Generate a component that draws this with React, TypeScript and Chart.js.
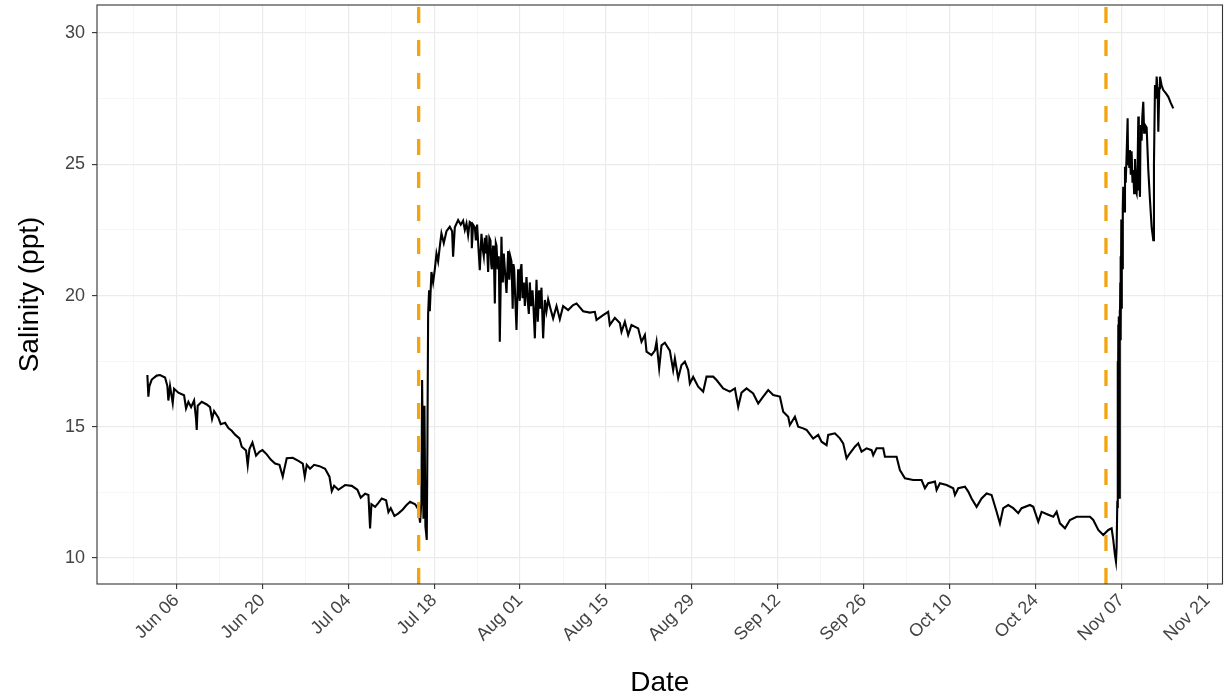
import React, { useEffect, useRef } from "react";
import { Chart, registerables } from "chart.js";

Chart.register(...registerables);

// x values are days since Jun 01
const tickDays = [5, 19, 33, 47, 61, 75, 89, 103, 117, 131, 145, 159, 173];
const tickLabels = ["Jun 06", "Jun 20", "Jul 04", "Jul 18", "Aug 01", "Aug 15", "Aug 29", "Sep 12", "Sep 26", "Oct 10", "Oct 24", "Nov 07", "Nov 21"];
const minorDays = [-2, 12, 26, 40, 54, 68, 82, 96, 110, 124, 138, 152, 166];
const yTicks = [10, 15, 20, 25, 30];
const yMinor = [12.5, 17.5, 22.5, 27.5];
const eventDays = [44.48, 156.48];

// June - mid July
const earlyDays = [0.27, 0.43, 0.60, 0.98, 1.79, 2.33, 3.15, 3.53, 3.69, 3.96,
  4.40, 4.62, 5.32, 6.25, 6.57, 6.95, 7.39, 7.88, 8.20, 8.31,
  8.47, 9.13, 9.94, 10.48, 10.81, 11.14, 11.84, 12.22, 12.93, 13.47,
  14.02, 14.56, 15.27, 15.65, 16.35, 16.62, 16.90, 17.39, 17.98, 18.53,
  19.02, 19.72, 20.37, 21.08, 21.79, 22.33, 22.55, 22.98, 23.96, 24.88,
  25.59, 25.92, 26.24, 26.78, 27.44, 28.31, 29.23, 29.94, 30.32, 30.70,
  31.40, 32.49, 33.58, 34.50, 35.04, 35.75, 36.29, 36.56, 36.78, 37.38,
  37.92, 38.47, 39.17, 39.55, 39.93, 40.53, 41.18, 41.89, 42.43, 43.08,
  43.90, 44.44, 44.71, 44.93, 45.04, 45.26, 45.42, 45.58, 45.80, 45.91, 46.02];
const earlySal = [16.97, 16.15, 16.55, 16.80, 16.95, 16.97, 16.88, 16.55, 16.0, 16.55,
  15.9, 16.45, 16.3, 16.2, 15.7, 15.95, 15.75, 16.0, 15.3, 14.88,
  15.8, 15.95, 15.85, 15.75, 15.3, 15.6, 15.35, 15.1, 15.15, 14.95,
  14.85, 14.7, 14.56, 14.24, 14.1, 13.54, 14.15, 14.4, 13.9, 14.05,
  14.11, 13.95, 13.75, 13.6, 13.55, 13.1, 13.35, 13.8, 13.82, 13.7,
  13.6, 13.1, 13.55, 13.4, 13.55, 13.5, 13.4, 13.1, 12.55, 12.75,
  12.6, 12.78, 12.75, 12.6, 12.3, 12.45, 12.4, 11.13, 12.05, 11.95,
  12.1, 12.27, 12.2, 11.75, 11.9, 11.6, 11.7, 11.85, 12.0, 12.14,
  12.05, 11.85, 11.35, 12.2, 16.78, 11.5, 15.8, 11.2, 10.69, 14.5, 19.3];

// late July - early August peak
const peakDays = [46.18, 46.29, 46.56, 46.83, 47.11, 47.38, 47.65, 47.92, 48.19, 48.57,
  49.01, 49.55, 49.93, 50.09, 50.37, 50.91, 51.34, 51.72, 52.00, 52.27,
  52.54, 52.80, 53.08, 53.14, 53.35, 53.63, 53.80, 54.00, 54.20, 54.44,
  54.71, 54.90, 55.09, 55.26, 55.40, 55.53, 55.80, 56.00, 56.18, 56.30,
  56.40, 56.61, 56.75, 56.89, 57.05, 57.16, 57.35, 57.54, 57.70, 57.97,
  58.08, 58.19, 58.35, 58.55, 58.79, 59.06, 59.25, 59.40, 59.60, 59.80,
  59.92, 60.04, 60.20, 60.42, 60.69, 60.82, 60.96, 61.10, 61.23, 61.40,
  61.61, 61.78, 62.05, 62.25, 62.43, 62.59, 62.80, 63.03, 63.20, 63.41,
  63.68, 63.89, 64.11, 64.30, 64.49, 64.76, 65.04, 65.30, 65.58, 65.96];
const peakSal = [20.2, 19.4, 20.9, 20.5, 21.0, 21.6, 21.3, 21.86, 22.37, 22.0,
  22.45, 22.62, 22.45, 21.48, 22.6, 22.88, 22.7, 22.85, 22.5, 22.75,
  22.3, 22.8, 22.75, 21.8, 22.7, 22.6, 22.1, 22.7, 21.9, 20.97,
  22.35, 21.8, 21.5, 22.2, 21.6, 22.3, 20.9, 22.2, 22.1, 21.2,
  21.0, 21.9, 21.3, 19.7, 22.0, 21.9, 21.0, 21.5, 18.24, 22.24,
  21.2, 20.5, 21.6, 20.9, 20.1, 21.7, 20.6, 21.5, 21.3, 19.5,
  21.2, 21.0, 20.0, 18.69, 21.0, 20.2, 19.8, 21.0, 21.2, 19.9,
  20.5, 19.6, 20.7, 19.8, 19.3, 20.5, 19.6, 20.2, 19.5, 18.37,
  20.6, 19.0, 20.2, 19.5, 20.3, 18.37, 19.83, 19.4, 19.85, 19.5];

// August - mid September
const midDays = [66.39, 66.94, 67.48, 68.02, 68.84, 69.65, 70.20, 71.28, 72.37, 73.19,
  73.46, 74.54, 75.36, 75.63, 76.45, 77.26, 77.53, 78.08, 78.62, 79.16,
  80.25, 80.79, 81.34, 81.61, 82.42, 82.97, 83.24, 83.67, 84.05, 84.60,
  85.41, 85.95, 86.23, 86.77, 87.31, 87.86, 88.40, 88.67, 89.21, 90.03,
  90.84, 91.39, 92.47, 93.02, 94.10, 95.19, 96.01, 96.55, 97.09, 97.91,
  98.99, 99.81, 100.62, 101.44, 102.25, 103.34, 103.88, 104.70, 104.97, 105.79,
  106.33, 107.14];
const midSal = [19.13, 19.6, 19.1, 19.6, 19.45, 19.64, 19.70, 19.4, 19.35, 19.38,
  19.07, 19.25, 19.38, 18.88, 19.15, 18.95, 18.62, 19.0, 18.50, 18.88,
  18.75, 18.24, 18.5, 17.86, 17.73, 17.9, 18.24, 17.23, 18.1, 18.2,
  17.9, 17.16, 17.6, 16.85, 17.35, 17.48, 17.16, 16.65, 16.9, 16.53,
  16.34, 16.91, 16.91, 16.78, 16.46, 16.34, 16.46, 15.76, 16.3, 16.46,
  16.27, 15.89, 16.15, 16.40, 16.21, 16.15, 15.57, 15.38, 15.07, 15.38,
  15.0, 14.94];

// mid September - early November
const lateDays = [107.69, 108.77, 109.59, 110.13, 110.95, 111.22, 112.31, 113.12, 113.66, 114.21,
  114.75, 115.57, 116.11, 116.65, 117.47, 118.28, 118.55, 119.10, 120.18, 120.46,
  121.54, 122.36, 122.90, 123.72, 125.07, 126.43, 126.98, 127.52, 128.61, 128.88,
  129.42, 130.51, 131.59, 131.87, 132.41, 133.50, 134.04, 134.58, 135.40, 136.21,
  137.03, 137.84, 138.66, 139.20, 139.74, 140.56, 141.37, 142.19, 142.73, 144.09,
  144.63, 145.45, 145.99, 147.08, 147.89, 148.44, 148.98, 149.80, 150.61, 151.70,
  152.78, 153.87, 154.41, 155.23, 156.04, 156.86, 157.40, 157.67];
const lateSal = [14.88, 14.55, 14.69, 14.43, 14.30, 14.69, 14.75, 14.56, 14.37, 13.80,
  13.99, 14.24, 14.37, 14.05, 14.18, 14.11, 13.92, 14.18, 14.18, 13.86,
  13.86, 13.86, 13.35, 13.04, 12.97, 12.97, 12.66, 12.85, 12.91, 12.59,
  12.85, 12.78, 12.66, 12.40, 12.66, 12.72, 12.53, 12.27, 11.95, 12.27,
  12.46, 12.40, 11.76, 11.32, 11.90, 12.02, 11.90, 11.71, 11.90, 12.02,
  11.95, 11.38, 11.76, 11.65, 11.57, 11.76, 11.32, 11.13, 11.45, 11.57,
  11.57, 11.57, 11.45, 11.07, 10.88, 11.07, 11.13, 10.69];

// November surge
const novDays = [157.95, 158.11, 158.22, 158.33, 158.38, 158.43, 158.49, 158.54, 158.60, 158.65,
  158.71, 158.76, 158.81, 158.84, 158.87, 158.92, 158.98, 159.03, 159.09, 159.14,
  159.20, 159.25, 159.30, 159.45, 159.58, 159.70, 159.85, 160.01, 160.09, 160.17,
  160.28, 160.39, 160.52, 160.66, 160.80, 160.93, 161.07, 161.21, 161.35, 161.48,
  161.64, 161.75, 161.83, 161.91, 162.02, 162.10, 162.18, 162.29, 162.40, 162.56,
  162.70, 162.84, 163.11, 163.38, 163.65, 163.92, 164.19, 164.30, 164.47, 164.63,
  164.74, 164.90, 165.01, 165.17, 165.28, 165.55, 165.82, 166.26, 166.64, 167.02, 167.45];
const novSal = [10.1, 9.86, 10.4, 12.18, 17.5, 11.9, 18.9, 12.4, 19.2, 12.3,
  19.45, 18.18, 20.5, 18.3, 21.5, 18.6, 22.9, 19.5, 21.8, 22.8,
  21.0, 23.3, 24.14, 23.2, 24.91, 24.3, 25.42, 26.75, 25.0, 25.3,
  24.9, 25.54, 24.6, 25.5, 24.3, 24.78, 23.9, 25.2, 24.0, 23.89,
  25.0, 26.82, 24.0, 24.5, 23.76, 26.0, 26.5, 25.9, 26.8, 27.38,
  26.2, 26.5, 26.4, 24.78, 23.64, 22.62, 22.11, 25.0, 28.02, 27.5,
  28.34, 27.8, 26.24, 27.9, 28.34, 28.0, 27.83, 27.7, 27.57, 27.35, 27.13];

const segmentDays = [earlyDays, peakDays, midDays, lateDays, novDays];
const segmentSal = [earlySal, peakSal, midSal, lateSal, novSal];

const FONT = "'Liberation Sans', Arial, Helvetica, sans-serif";

const overlayPlugin = {
  id: "overlay",
  afterDatasetsDraw(chart: any) {
    const { ctx, chartArea, scales } = chart;
    const { left, right, top, bottom } = chartArea;
    ctx.save();
    ctx.beginPath();
    ctx.rect(left, top, right - left, bottom - top);
    ctx.clip();
    ctx.strokeStyle = "#F4A40C";
    ctx.lineWidth = 3.3;
    ctx.setLineDash([16, 17]);
    eventDays.forEach((d) => {
      const px = scales.x.getPixelForValue(d);
      ctx.beginPath();
      ctx.moveTo(px, bottom);
      ctx.lineTo(px, top);
      ctx.stroke();
    });
    ctx.restore();
    ctx.save();
    ctx.strokeStyle = "#333333";
    ctx.lineWidth = 1.1;
    ctx.strokeRect(left, top, right - left, bottom - top);
    ctx.restore();
  },
};

export default function App() {
  const ref = useRef<HTMLCanvasElement | null>(null);
  useEffect(() => {
    document.body.style.margin = "0";
    const points: { x: number; y: number }[] = [];
    segmentDays.forEach((ds, s) => {
      const vs = segmentSal[s];
      const n = Math.min(ds.length, vs.length);
      for (let i = 0; i < n; i++) points.push({ x: ds[i], y: vs[i] });
    });
    const isMajorX = (v: number) => tickDays.indexOf(v) >= 0;
    const isMajorY = (v: number) => yTicks.indexOf(v) >= 0;
    const chart = new Chart(ref.current as HTMLCanvasElement, {
      type: "line",
      data: {
        datasets: [
          {
            data: points,
            borderColor: "#000000",
            borderWidth: 2.1,
            pointRadius: 0,
            tension: 0,
            fill: false,
          },
        ],
      },
      options: {
        responsive: false,
        animation: false,
        parsing: false,
        normalized: true,
        layout: { padding: { top: 5, right: 2.5, left: 0, bottom: 0 } },
        plugins: { legend: { display: false }, tooltip: { enabled: false } },
        scales: {
          x: {
            type: "linear",
            min: -7.94,
            max: 175.47,
            afterBuildTicks: (scale: any) => {
              scale.ticks = [...tickDays, ...minorDays]
                .sort((a, b) => a - b)
                .map((v) => ({ value: v }));
            },
            afterFit: (scale: any) => {
              scale.height = 116;
              scale.paddingLeft = 0;
              scale.paddingRight = 0;
            },
            border: { display: false },
            grid: {
              color: (c: any) => (isMajorX(c.tick?.value) ? "#ebebeb" : "#f4f4f4"),
              lineWidth: (c: any) => (isMajorX(c.tick?.value) ? 1.2 : 0.8),
              tickColor: (c: any) => (isMajorX(c.tick?.value) ? "#333333" : "rgba(0,0,0,0)"),
              tickLength: 5,
              tickWidth: 1.1,
              drawTicks: true,
            },
            ticks: {
              autoSkip: false,
              minRotation: 45,
              maxRotation: 45,
              padding: 1,
              color: "#444444",
              font: { family: FONT, size: 18 },
              callback: (v: any) => {
                const i = tickDays.indexOf(Number(v));
                return i >= 0 ? tickLabels[i] : "";
              },
            },
            title: {
              display: true,
              text: "Date",
              color: "#000000",
              font: { family: FONT, size: 28 },
              padding: { top: 0, bottom: 0 },
            },
          },
          y: {
            type: "linear",
            min: 9.01,
            max: 31.07,
            afterBuildTicks: (scale: any) => {
              scale.ticks = [...yTicks, ...yMinor]
                .sort((a, b) => a - b)
                .map((v) => ({ value: v }));
            },
            afterFit: (scale: any) => {
              scale.width = 97;
              scale.paddingTop = 0;
              scale.paddingBottom = 0;
            },
            border: { display: false },
            grid: {
              color: (c: any) => (isMajorY(c.tick?.value) ? "#ebebeb" : "#f4f4f4"),
              lineWidth: (c: any) => (isMajorY(c.tick?.value) ? 1.2 : 0.8),
              tickColor: (c: any) => (isMajorY(c.tick?.value) ? "#333333" : "rgba(0,0,0,0)"),
              tickLength: 5,
              tickWidth: 1.1,
              drawTicks: true,
            },
            ticks: {
              autoSkip: false,
              padding: 7,
              color: "#444444",
              font: { family: FONT, size: 18 },
              callback: (v: any) => (isMajorY(Number(v)) ? String(v) : ""),
            },
            title: {
              display: true,
              text: "Salinity (ppt)",
              color: "#000000",
              font: { family: FONT, size: 28 },
              padding: { top: 13, bottom: 0 },
            },
          },
        },
      },
      plugins: [overlayPlugin],
    });
    return () => chart.destroy();
  }, []);
  return <canvas ref={ref} width={1225} height={700} style={{ display: "block" }} />;
}
